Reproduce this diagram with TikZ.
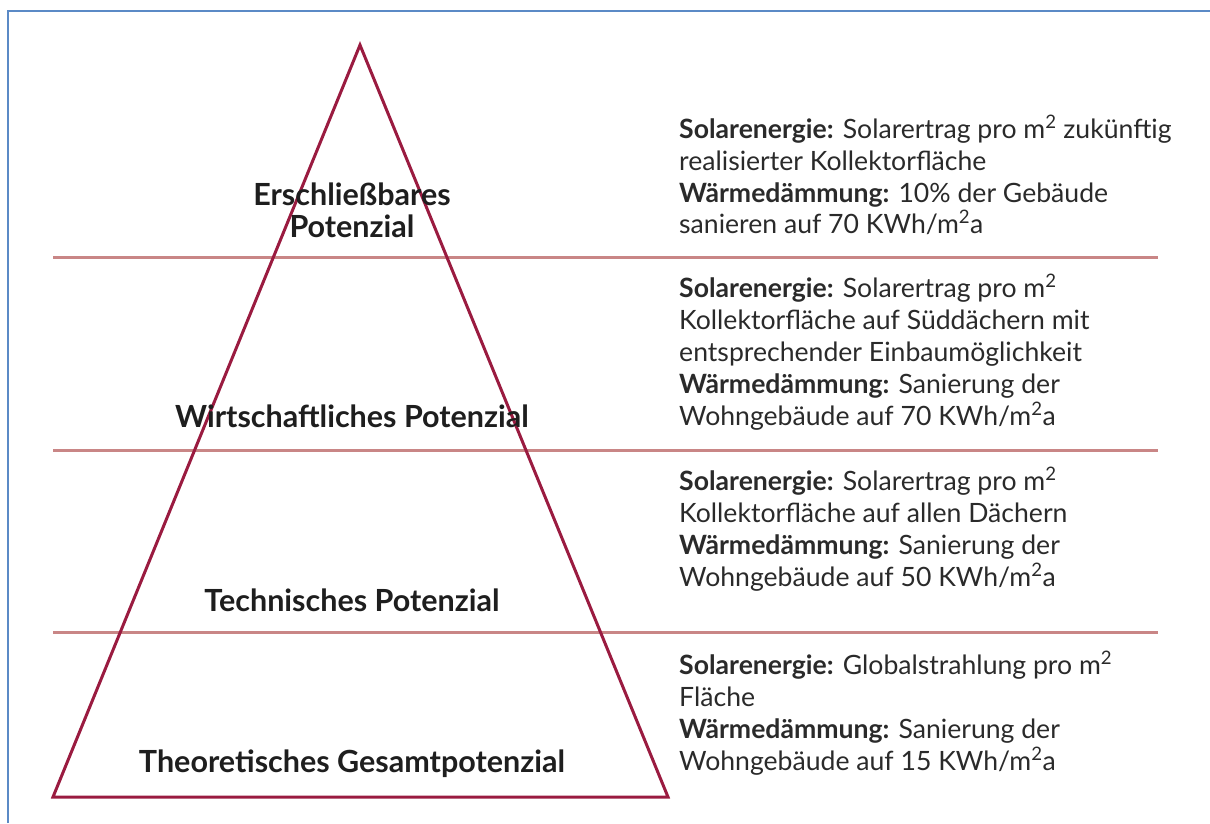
\documentclass[tikz,border=0pt]{standalone}
\usepackage{fontspec}
\setmainfont{Lato}
\definecolor{frameblue}{HTML}{5B8AC6}
\definecolor{tri}{HTML}{9A1B40}
\definecolor{band}{HTML}{C98686}
\definecolor{txt}{HTML}{2A2A2A}
\definecolor{lbltxt}{HTML}{1E1E1E}
\begin{document}
\begin{tikzpicture}[x=1pt,y=-1pt,
  lbl/.style={anchor=base,font=\fontsize{30.5}{34}\selectfont\bfseries,text=lbltxt,inner sep=0pt},
  desc/.style={anchor=base west,font=\fontsize{26.6}{30}\selectfont,text=txt,inner sep=0pt},
  bandline/.style={draw=band,line width=3pt},
  triline/.style={draw=tri,line width=3pt,line join=miter}]
\useasboundingbox (0,0) rectangle (1210,823);
% frame
\draw[frameblue,line width=2pt] (8,823) -- (8,11) -- (1210,11);
% band lines
\coordinate (b1l) at (53,257); \coordinate (b1r) at (1158,257);
\coordinate (b2l) at (53,450); \coordinate (b2r) at (1158,450);
\coordinate (b3l) at (53,632); \coordinate (b3r) at (1158,632);
\draw[bandline] (b1l) -- (b1r);
\draw[bandline] (b2l) -- (b2r);
\draw[bandline] (b3l) -- (b3r);
% triangle
\coordinate (apex) at (360,45);
\coordinate (bl) at (53,797);
\coordinate (br) at (668,797);
\draw[triline] (apex) -- (br) -- (bl) -- cycle;
% left labels
\node[lbl] (l1a) at (352,205) {Erschließbares};
\node[lbl] (l1b) at (352,237) {Potenzial};
\node[lbl] (l2) at (352,427) {Wirtschaftliches Potenzial};
\node[lbl] (l3) at (352,611) {Technisches Potenzial};
\node[lbl] (l4) at (352,772) {Theoretisches Gesamtpotenzial};
% right descriptions
\node[desc] (d11) at (679,138) {\textbf{Solarenergie:} Solarertrag pro m\textsuperscript{2} zukünftig};
\node[desc] (d12) at (679,170) {realisierter Kollektorfläche};
\node[desc] (d13) at (679,202) {\textbf{Wärmedämmung:} 10\% der Gebäude};
\node[desc] (d14) at (679,233) {sanieren auf 70 KWh/m\textsuperscript{2}a};
\node[desc] (d21) at (679,297) {\textbf{Solarenergie:} Solarertrag pro m\textsuperscript{2}};
\node[desc] (d22) at (679,329) {Kollektorfläche auf Süddächern mit};
\node[desc] (d23) at (679,361) {entsprechender Einbaumöglichkeit};
\node[desc] (d24) at (679,393) {\textbf{Wärmedämmung:} Sanierung der};
\node[desc] (d25) at (679,425) {Wohngebäude auf 70 KWh/m\textsuperscript{2}a};
\node[desc] (d31) at (679,490) {\textbf{Solarenergie:} Solarertrag pro m\textsuperscript{2}};
\node[desc] (d32) at (679,522) {Kollektorfläche auf allen Dächern};
\node[desc] (d33) at (679,554) {\textbf{Wärmedämmung:} Sanierung der};
\node[desc] (d34) at (679,586) {Wohngebäude auf 50 KWh/m\textsuperscript{2}a};
\node[desc] (d41) at (679,674) {\textbf{Solarenergie:} Globalstrahlung pro m\textsuperscript{2}};
\node[desc] (d42) at (679,706) {Fläche};
\node[desc] (d43) at (679,738) {\textbf{Wärmedämmung:} Sanierung der};
\node[desc] (d44) at (679,770) {Wohngebäude auf 15 KWh/m\textsuperscript{2}a};
\end{tikzpicture}
\end{document}
